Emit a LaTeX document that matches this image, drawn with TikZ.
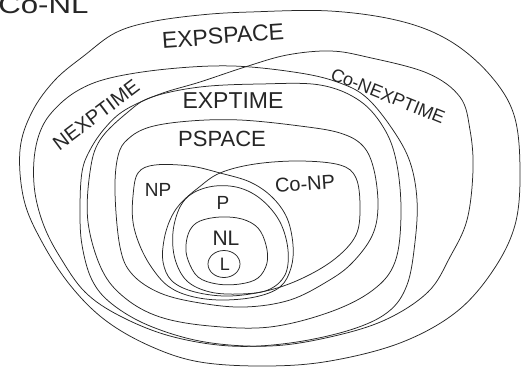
\documentclass[tikz,border=0pt]{standalone}
\usepackage{fontspec}
\setmainfont{Liberation Sans}
\begin{document}
\begin{tikzpicture}[x=1pt,y=-1pt,
  ring/.style={line width=0.75pt, black!85, line join=round, line cap=round},
  lab/.style={inner sep=0pt, text=black!85},
]
\useasboundingbox (0,0) rectangle (522,372);
\fill[white] (0,0) rectangle (522,372);
% EXPSPACE (outermost)
\draw[ring] plot[smooth cycle, tension=0.6] coordinates {
 (20,150) (32,112) (55,80) (85,55) (115,33) (150,22) (200,15) (250,12) (330,11)
 (400,21) (450,41) (490,75) (514,115) (520,170) (515,225) (492,272) (455,313)
 (400,343) (330,361) (267,366) (200,362) (150,346) (105,320) (70,285) (42,242) (24,200)};
% NEXPTIME
\draw[ring] plot[smooth cycle, tension=0.6] coordinates {
 (35,193) (34,160) (40,132) (53,111) (77,91) (110,78) (167,69) (233,66) (300,73)
 (340,83) (367,98) (393,130) (410,162) (417,200) (415,242) (407,285) (388,312)
 (350,330) (290,343) (230,346) (170,336) (120,316) (85,292) (60,257) (44,226)};
% co-NEXPTIME
\draw[ring] plot[smooth cycle, tension=0.6] coordinates {
 (80,210) (82,172) (90,150) (105,128) (125,110) (160,94) (200,82) (245,67) (287,55)
 (330,51) (367,57) (427,73) (460,97) (470,130) (473,170) (467,220) (450,257)
 (428,292) (385,320) (330,337) (270,346) (205,342) (150,326) (112,304) (92,280) (82,245)};
% EXPTIME
\draw[ring] plot[smooth cycle, tension=0.6] coordinates {
 (88,222) (90,172) (100,140) (128,112) (152,97) (200,87) (260,84) (320,85)
 (360,101) (385,130) (397,165) (401,215) (395,262) (373,290) (330,312) (270,327)
 (210,326) (160,317) (125,298) (102,270)};
% PSPACE
\draw[ring] plot[smooth cycle, tension=0.6] coordinates {
 (115,192) (118,156) (128,139) (150,127) (190,121) (240,120) (300,126) (340,133)
 (363,146) (374,170) (378,207) (372,236) (352,263) (328,281) (290,300) (245,307)
 (200,303) (160,293) (132,274) (120,247)};
% NP
\draw[ring] plot[smooth cycle, tension=0.6] coordinates {
 (133,196) (138,173) (155,165) (190,166) (220,173) (250,182) (272,197) (287,218)
 (293,245) (291,268) (280,287) (255,297) (220,300) (190,296) (168,286) (152,268)
 (140,246) (133,222)};
% co-NP
\draw[ring] plot[smooth cycle, tension=0.6] coordinates {
 (170,220) (180,204) (198,188) (220,173) (255,164) (300,161) (340,165) (356,178)
 (360,207) (356,235) (336,258) (305,277) (270,290) (230,296) (195,292) (172,281)
 (163,262) (164,240)};
% P
\draw[ring] plot[smooth cycle, tension=0.6] coordinates {
 (180,207) (193,193) (215,186) (240,188) (262,200) (280,222) (288,250) (285,275)
 (268,290) (240,294) (210,292) (187,281) (175,259) (173,232)};
% NL
\draw[ring] plot[smooth cycle, tension=0.6] coordinates {
 (190,230) (200,221) (220,217) (242,219) (258,228) (266,245) (267,263) (258,278)
 (240,284) (217,284) (198,277) (188,260) (186,245)};
% L
\draw[ring] (224,264) ellipse [x radius=16, y radius=13.5];

\node[lab, font=\fontsize{25}{25}\selectfont, xscale=1.25, anchor=base west] (conl) at (-2,13) {Co-NL};
\node[lab, font=\fontsize{23}{23}\selectfont, rotate=4] (expspace) at (223,36) {EXPSPACE};
\node[lab, font=\fontsize{20}{20}\selectfont, rotate=37] (nexptime) at (96,115) {NEXPTIME};
\node[lab, font=\fontsize{18}{18}\selectfont, rotate=-22] (conexptime) at (388,96) {Co-NEXPTIME};
\node[lab, font=\fontsize{23}{23}\selectfont] (exptime) at (233,101) {EXPTIME};
\node[lab, font=\fontsize{22}{22}\selectfont] (pspace) at (222,139) {PSPACE};
\node[lab, font=\fontsize{19}{19}\selectfont] (np) at (158,190) {NP};
\node[lab, font=\fontsize{20}{20}\selectfont, rotate=4] (conp) at (305,184) {Co-NP};
\node[lab, font=\fontsize{19}{19}\selectfont] (p) at (223,203) {P};
\node[lab, font=\fontsize{21}{21}\selectfont] (nl) at (226,238) {NL};
\node[lab, font=\fontsize{18}{18}\selectfont] (l) at (225,264) {L};
\end{tikzpicture}
\end{document}
